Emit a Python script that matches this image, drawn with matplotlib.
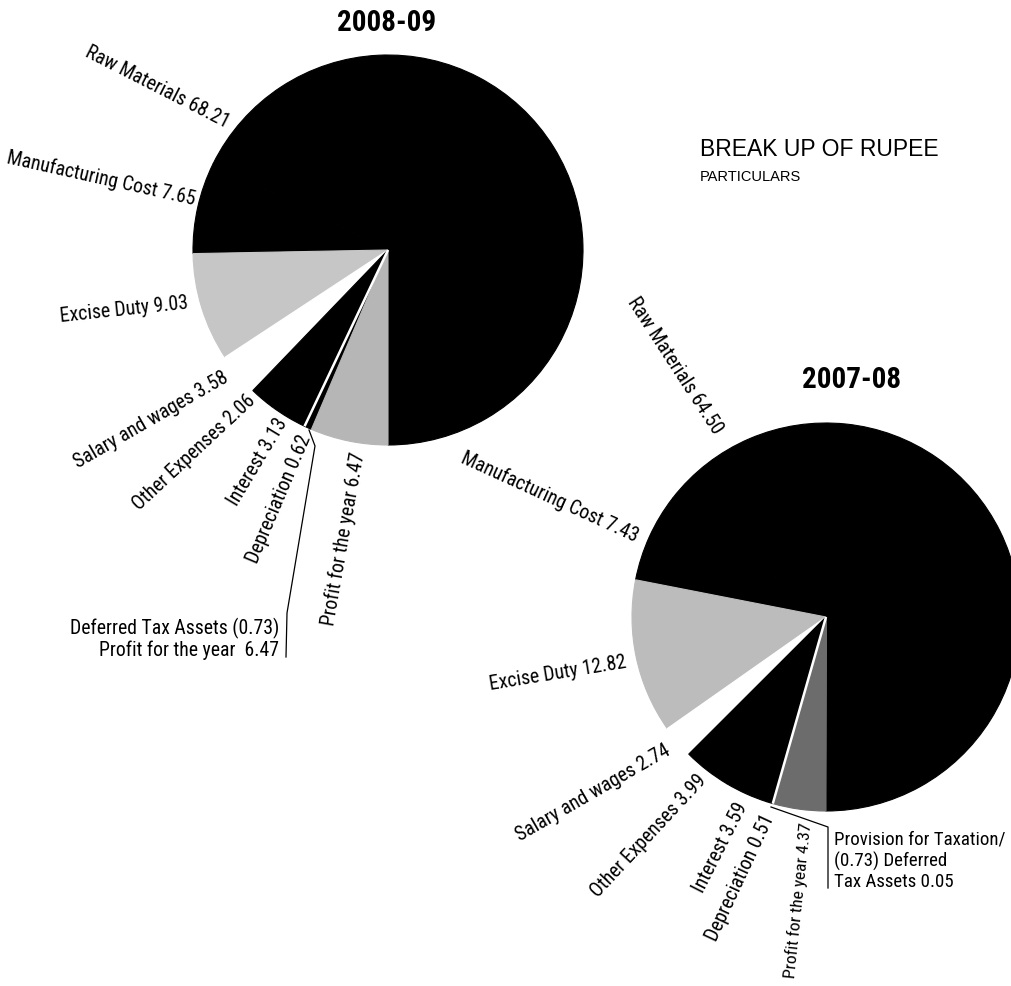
import numpy as np
import matplotlib.pyplot as plt
from matplotlib import font_manager as fm

# Break up of rupee, two years
W, H = 1011, 986

items = ["Raw Materials", "Manufacturing Cost", "Excise Duty", "Salary and wages",
         "Other Expenses", "Interest", "Depreciation", "Profit for the year"]

values_0809 = [68.21, 7.65, 9.03, 3.58, 2.06, 3.13, 0.62, 6.47]
deferred_0809 = -0.73
colors_0809 = ["black", "black", "#c6c6c6", "white", "black", "black", "black", "#b6b6b6"]

values_0708 = [64.50, 7.43, 12.82, 2.74, 3.99, 3.59, 0.51, 4.37, 0.05]
deferred_0708 = -0.73
colors_0708 = ["black", "black", "#bcbcbc", "white", "black", "black", "black", "#6c6c6c", "#6c6c6c"]


# find a narrow font; otherwise shrink a normal one to about the same width
def narrow_font(weight="normal"):
    names = {f.name for f in fm.fontManager.ttflist}
    for n in ["Liberation Sans Narrow", "Arial Narrow", "Roboto Condensed",
              "Open Sans Condensed", "DejaVu Sans Condensed"]:
        if n in names:
            return fm.FontProperties(family=n, weight=weight), 1.0
    for f in fm.fontManager.ttflist:
        if f.name == "DejaVu Sans" and f.stretch == "condensed":
            if (weight == "bold") == (f.weight in ("bold", 700)):
                return fm.FontProperties(fname=f.fname), 0.92
    return fm.FontProperties(family="Liberation Sans", weight=weight), 0.84


NF, nscale = narrow_font()
BF, bscale = narrow_font("bold")
REG = ["Liberation Sans", "DejaVu Sans"]
LBL = 14.2


def px(x, y):
    # picture pixels (y down) -> axes data (y up)
    return x, H - y


def txt(x, y, s, size, fp, scale, **kw):
    p = fp.copy()
    p.set_size(size * scale)
    return ax.text(*px(x, y), s, fontproperties=p, **kw)


fig = plt.figure(figsize=(W / 100, H / 100), dpi=100)
ax = fig.add_axes([0, 0, 1, 1])


def draw_pie(vals, cols, center, r, gap_idx):
    wedges, _ = ax.pie(vals, colors=cols, startangle=-90, counterclock=True,
                       center=px(*center), radius=r, frame=True,
                       wedgeprops=dict(linewidth=0.8))
    for w in wedges:
        w.set_edgecolor(w.get_facecolor())
    # thin white separator on the start edge of one wedge
    th = np.deg2rad(wedges[gap_idx].theta1)
    cx, cy = px(*center)
    ax.plot([cx, cx + r * np.cos(th)], [cy, cy + r * np.sin(th)], color="white", lw=1.8,
            solid_capstyle="butt")
    return wedges


draw_pie(values_0809, colors_0809, (388, 250), 195, 6)
draw_pie(values_0708, colors_0708, (826, 617), 194, 7)

ax.set_xlim(0, W)
ax.set_ylim(0, H)
ax.set_aspect("equal")
ax.axis("off")

# titles
txt(387, 23, "2008-09", 21, BF, bscale, ha="center", va="center", fontweight="bold")
txt(852, 380, "2007-08", 21, BF, bscale, ha="center", va="center", fontweight="bold")
ax.text(*px(700, 150), "BREAK UP OF RUPEE", ha="left", va="center", fontsize=16.5, family=REG)
ax.text(*px(700, 177), "PARTICULARS", ha="left", va="center", fontsize=10.5, family=REG)

# label anchors (right end of text) and rotations
pos_0809 = [(228, 123, -27), (195, 200, -12.6), (188, 303, 6), (227, 376, 30),
            (253, 398, 43), (283, 420, 59), (306, 436, 67), (359, 452, 80)]
pos_0708 = [(718, 432, -57), (637, 537, -24.5), (626, 662, 9.3), (669, 749, 30),
            (703, 778, 47), (743, 804, 63), (769, 815, 65), (806, 823, 84)]

for name, v, (x, y, rot) in zip(items, values_0809, pos_0809):
    txt(x, y, f"{name} {v:.2f}", LBL, NF, nscale, ha="right", va="center",
        rotation=rot, rotation_mode="anchor")
for name, v, (x, y, rot) in zip(items, values_0708, pos_0708):
    size = LBL - 1.6 if name.startswith("Profit") else LBL
    txt(x, y, f"{name} {v:.2f}", size, NF, nscale, ha="right", va="center",
        rotation=rot, rotation_mode="anchor")

# callouts
txt(279, 639, f"Deferred Tax Assets ({abs(deferred_0809):.2f})\n"
    f"Profit for the year  {values_0809[7]:.2f}", LBL, NF, nscale, ha="right",
    va="center", multialignment="right", linespacing=1.05)
lx, ly = zip(*[px(309, 430), px(315, 446), px(287, 613), px(286, 657)])
ax.plot(lx, ly, color="black", lw=0.9)

txt(834, 861, f"Provision for Taxation/\n({abs(deferred_0708):.2f}) Deferred\n"
    f"Tax Assets {values_0708[8]:.2f}", LBL - 0.6, NF, nscale, ha="left", va="center",
    linespacing=1.2)
lx, ly = zip(*[px(771, 807), px(828, 827), px(828, 888)])
ax.plot(lx, ly, color="black", lw=0.9)

fig.savefig("out.png", dpi=100)
